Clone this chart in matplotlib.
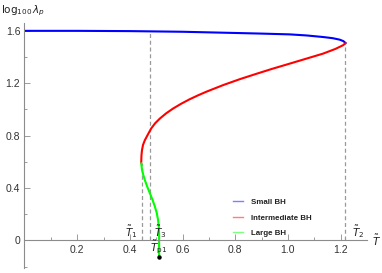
import matplotlib
matplotlib.use("Agg")
import matplotlib.pyplot as plt
from matplotlib.lines import Line2D

plt.rcParams["font.family"] = ["Liberation Sans", "DejaVu Sans"]

# curves (T, log100 lambda_p)
small_T = [0.0, 0.2, 0.4, 0.6, 0.817, 0.9, 1.007, 1.07, 1.133, 1.17, 1.196, 1.21, 1.219]
small_y = [1.600, 1.600, 1.598, 1.593, 1.583, 1.579, 1.573, 1.565, 1.553, 1.544, 1.533, 1.522, 1.507]

inter_T = [1.219, 1.209, 1.18, 1.133, 1.07, 1.007, 0.94, 0.88, 0.817, 0.754, 0.691,
           0.66, 0.627, 0.595, 0.564, 0.538, 0.514, 0.496, 0.482, 0.474, 0.466,
           0.457, 0.45, 0.446, 0.444, 0.443]
inter_y = [1.507, 1.49, 1.462, 1.426, 1.388, 1.35, 1.31, 1.272, 1.231, 1.186, 1.136,
           1.109, 1.078, 1.044, 1.007, 0.971, 0.931, 0.895, 0.858, 0.83, 0.80,
           0.766, 0.73, 0.69, 0.65, 0.59]

large_T = [0.443, 0.446, 0.451, 0.457, 0.466, 0.476, 0.486, 0.495, 0.502, 0.507,
           0.51, 0.511, 0.511, 0.511]
large_y = [0.59, 0.54, 0.50, 0.46, 0.41, 0.36, 0.31, 0.258, 0.21, 0.156,
           0.10, 0.05, -0.05, -0.123]

# special temperatures and where the dashed guides stop
marks_T = [0.446, 0.475, 1.216]
marks_top = [0.59, 1.60, 1.507]
Tp1 = 0.511
Tp1_y = -0.125

fig = plt.figure(figsize=(3.82, 2.73), dpi=100)
ax = fig.add_axes([0.0641, 0.0183, 0.8966, 0.8975])

ax.vlines(marks_T, 0, marks_top, colors="#9a9a9a", linestyles=(0, (3.2, 2.2)), lw=0.9)
ax.plot(small_T, small_y, color="#0000ff", lw=1.5, solid_capstyle="round")
ax.plot(inter_T, inter_y, color="#ff0000", lw=1.5, solid_capstyle="round")
ax.plot(large_T, large_y, color="#00ff00", lw=1.5, solid_capstyle="round")
ax.plot([Tp1], [Tp1_y], "o", color="black", ms=2.2)

ax.set_xlim(0, 1.3)
ax.set_ylim(-0.21, 1.66)

for s in ["top", "right"]:
    ax.spines[s].set_visible(False)
ax.spines["bottom"].set_position(("data", 0))
ax.spines["left"].set_position(("data", 0))
for s in ["bottom", "left"]:
    ax.spines[s].set_color("#8c8c8c")
    ax.spines[s].set_linewidth(0.8)

ax.set_xticks([0.2, 0.4, 0.6, 0.8, 1.0, 1.2])
ax.set_xticklabels(["0.2", "0.4", "0.6", "0.8", "1.0", "1.2"])
ax.set_xticks([0.1, 0.3, 0.5, 0.7, 0.9, 1.1], minor=True)
ax.set_yticks([0, 0.4, 0.8, 1.2, 1.6])
ax.set_yticklabels(["0", "0.4", "0.8", "1.2", "1.6"])
ax.set_yticks([-0.2, 0.2, 0.6, 1.0, 1.4], minor=True)
ax.tick_params(which="both", direction="in", color="#8c8c8c", width=0.6,
               labelsize=7.5, labelcolor="#333333", pad=3)
ax.tick_params(which="major", length=4)
ax.tick_params(which="minor", length=2.5)

tkw = dict(fontsize=7.5, color="#222222", ha="center", va="center")
ax.text(0.405, 0.07, r"$\tilde{T}_1$", **tkw)
ax.text(0.515, 0.07, r"$\tilde{T}_3$", **tkw)
ax.text(0.507, -0.05, r"$\tilde{T}_{\rm p1}$", **tkw)
ax.text(1.266, 0.07, r"$\tilde{T}_2$", **tkw)
ax.text(1.335, 0.0, r"$\tilde{T}$", **tkw)
fig.text(0.003, 0.962, r"$\log_{100}\lambda_p$", fontsize=7.5, color="#222222",
         ha="left", va="center")

handles = [Line2D([], [], color="#7f7fff", lw=1.0),
           Line2D([], [], color="#ff7f7f", lw=1.0),
           Line2D([], [], color="#7fff7f", lw=1.0)]
leg = ax.legend(handles, ["Small BH", "Intermediate BH", "Large BH"],
                loc="center left", bbox_to_anchor=(0.6, 0.205), frameon=False,
                fontsize=5.7, handlelength=1.3, handletextpad=0.9,
                labelspacing=1.0, borderaxespad=0)
for t in leg.get_texts():
    t.set_fontweight("bold")
    t.set_color("#222222")

fig.savefig("out.png", dpi=100)
